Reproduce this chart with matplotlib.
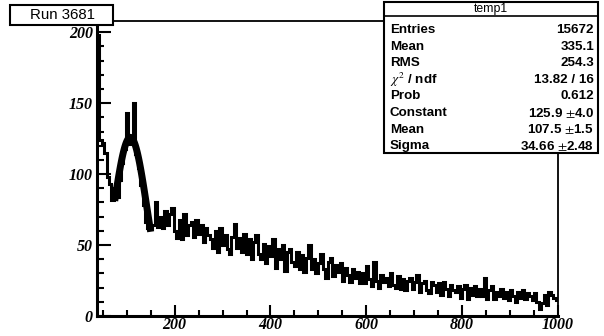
import numpy as np
import matplotlib.pyplot as plt
from matplotlib.patches import Rectangle
from matplotlib.ticker import MultipleLocator

plt.rcParams['mathtext.fontset'] = 'stix'

# histogram: 192 bins from x_lo to 1000
x_lo, x_hi = 38, 1000
counts = [
    198, 124, 122, 115, 98, 93, 82, 90, 84, 96,
    108, 118, 143, 121, 126, 150, 114, 104, 92, 78,
    66, 62, 61, 64, 80, 63, 70, 62, 74, 64,
    72, 76, 60, 55, 68, 54, 72, 57, 64, 66,
    56, 68, 58, 64, 52, 62, 57, 54, 48, 60,
    45, 62, 50, 57, 47, 44, 56, 65, 48, 55,
    45, 58, 44, 54, 40, 52, 57, 44, 40, 51,
    37, 49, 42, 54, 34, 47, 40, 50, 32, 45,
    47, 38, 35, 45, 33, 43, 31, 41, 50, 33,
    40, 30, 37, 44, 33, 27, 38, 41, 28, 36,
    31, 37, 25, 34, 29, 24, 33, 27, 31, 23,
    30, 23, 35, 26, 21, 38, 25, 20, 29, 24,
    27, 21, 30, 22, 20, 28, 19, 26, 18, 25,
    27, 19, 24, 29, 17, 23, 25, 18, 16, 24,
    22, 17, 23, 15, 24, 19, 14, 22, 18, 17,
    21, 13, 19, 22, 12, 20, 15, 21, 14, 19,
    14, 27, 12, 18, 21, 12, 17, 14, 19, 13,
    17, 11, 18, 14, 10, 17, 13, 18, 12, 16,
    14, 11, 16, 10, 5, 9, 15, 8, 17, 15,
    13, 11,
]

# gaussian fit shown in the stats box
fit_const, fit_mean, fit_sigma = 125.9, 107.5, 34.66
fit_range = [75, 150]

stat_labels = ['Entries', 'Mean', 'RMS', r'$\chi^2$ / ndf', 'Prob',
               'Constant', 'Mean', 'Sigma']
stat_values = ['15672', '335.1', '254.3', '13.82 / 16', '0.612',
               '125.9 $\\pm$4.0', '107.5 $\\pm$1.5', '34.66 $\\pm$2.48']

W, H = 604, 336
fig = plt.figure(figsize=(W / 100, H / 100), dpi=100)
ax = fig.add_axes([97 / W, 20 / H, 461 / W, 295 / H])

edges = np.linspace(x_lo, x_hi, len(counts) + 1)
ax.stairs(counts, edges, color='black', lw=2.2, baseline=None)

xf = np.linspace(fit_range[0], fit_range[1], 100)
yf = fit_const * np.exp(-0.5 * ((xf - fit_mean) / fit_sigma) ** 2)
ax.plot(xf, yf, color='black', lw=5, solid_capstyle='butt')

ax.set_xlim(x_lo, x_hi)
ax.set_ylim(0, max(counts) * 1.05)

ax.xaxis.set_major_locator(MultipleLocator(200))
ax.xaxis.set_minor_locator(MultipleLocator(50))
ax.yaxis.set_major_locator(MultipleLocator(50))
ax.yaxis.set_minor_locator(MultipleLocator(10))
ax.tick_params(which='both', direction='in', width=1.5, top=False, right=False)
ax.tick_params(axis='y', which='major', length=10, pad=3)
ax.tick_params(axis='y', which='minor', length=5)
ax.tick_params(axis='x', which='major', length=8, pad=1)
ax.tick_params(axis='x', which='minor', length=4)
for lab in ax.get_xticklabels() + ax.get_yticklabels():
    lab.set_family('Liberation Serif')
    lab.set_style('italic')
    lab.set_weight('bold')
    lab.set_size(11.5)

ax.spines['left'].set_linewidth(2.2)
ax.spines['bottom'].set_linewidth(2.2)
ax.spines['top'].set_linewidth(1.3)
ax.spines['right'].set_linewidth(1.3)


def box(x0, y0, x1, y1):
    r = Rectangle((x0 / W, 1 - y1 / H), (x1 - x0) / W, (y1 - y0) / H,
                  transform=fig.transFigure, facecolor='white',
                  edgecolor='black', lw=1.5, zorder=5)
    fig.add_artist(r)


# title box
box(10, 5, 113, 25)
fig.text(62 / W, 1 - 15 / H, 'Run 3681', ha='center', va='center',
         family='Liberation Sans', fontsize=10.8, zorder=6)

# stats box
box(384, 2, 598, 153)
fig.add_artist(plt.Line2D([384 / W, 598 / W], [1 - 16 / H, 1 - 16 / H],
                          transform=fig.transFigure, color='black', lw=1.2, zorder=6))
fig.text(491 / W, 1 - 9 / H, 'temp1', ha='center', va='center',
         family='Liberation Sans', fontsize=8.8, zorder=6)
for i, (lab, val) in enumerate(zip(stat_labels, stat_values)):
    y = 1 - (30 + i * 16.6) / H
    fig.text(390 / W, y, lab, ha='left', va='center', family='Liberation Sans',
             fontsize=9.6, weight='bold', zorder=6)
    fig.text(594 / W, y, val, ha='right', va='center', family='Liberation Sans',
             fontsize=9.6, weight='bold', zorder=6)

fig.savefig('out.png', dpi=100)
